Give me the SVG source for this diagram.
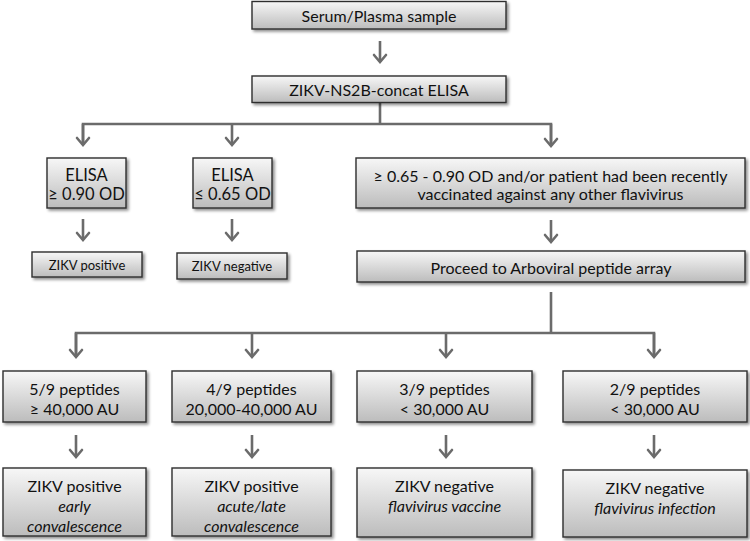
<svg xmlns="http://www.w3.org/2000/svg" width="750" height="541" viewBox="0 0 750 541">
<defs>
<linearGradient id="g" x1="0" y1="0" x2="0" y2="1">
<stop offset="0" stop-color="#f7f7f7"/>
<stop offset="1" stop-color="#bcbcbc"/>
</linearGradient>
<filter id="sh" x="-10%" y="-20%" width="120%" height="150%">
<feGaussianBlur in="SourceAlpha" stdDeviation="1.5"/>
<feOffset dx="1.5" dy="2" result="b"/>
<feComponentTransfer><feFuncA type="linear" slope="0.45"/></feComponentTransfer>
<feMerge><feMergeNode/><feMergeNode in="SourceGraphic"/></feMerge>
</filter>
<marker id="ah" markerUnits="userSpaceOnUse" viewBox="-10 -8 12 16" refX="0" refY="0" markerWidth="12" markerHeight="16" orient="auto" overflow="visible">
<path d="M-7,-6 L0,0 L-7,6" fill="none" stroke="#6b6b6b" stroke-width="2.6" stroke-linecap="round" stroke-linejoin="miter"/>
</marker>
</defs>
<style>
.box{fill:url(#g);stroke:#2e2e2e;stroke-width:1.4;filter:url(#sh)}
.t{font-family:Lato,"Open Sans","Liberation Sans",sans-serif;font-size:16px;fill:#111;text-anchor:middle;dominant-baseline:central}
.s{font-size:13px}
.b{font-size:16px}
.e{font-size:16.5px}
.i{font-style:italic}
.c{fill:none;stroke:#6b6b6b;stroke-width:2.6}
.a{marker-end:url(#ah)}
</style>
<rect width="750" height="541" fill="#ffffff"/>
<g id="connectors">
<line class="c a" x1="380" y1="41" x2="380" y2="62"/>
<line class="c" x1="380" y1="102" x2="380" y2="124"/>
<polyline class="c" points="83,145 83,124 551,124 551,145"/>
<line class="c a" x1="83" y1="124" x2="83" y2="145"/>
<line class="c a" x1="232" y1="124" x2="232" y2="145"/>
<line class="c a" x1="551" y1="124" x2="551" y2="146"/>
<line class="c a" x1="83" y1="219" x2="83" y2="240"/>
<line class="c a" x1="232" y1="219" x2="232" y2="240"/>
<line class="c a" x1="551" y1="220" x2="551" y2="242"/>
<line class="c" x1="551" y1="292" x2="551" y2="333"/>
<polyline class="c" points="76,357 76,333 654,333 654,357"/>
<line class="c a" x1="76" y1="333" x2="76" y2="357"/>
<line class="c a" x1="252" y1="333" x2="252" y2="357"/>
<line class="c a" x1="446" y1="333" x2="446" y2="357"/>
<line class="c a" x1="654" y1="333" x2="654" y2="357"/>
<line class="c a" x1="76" y1="435" x2="76" y2="457"/>
<line class="c a" x1="252" y1="435" x2="252" y2="457"/>
<line class="c a" x1="446" y1="435" x2="446" y2="457"/>
<line class="c a" x1="654" y1="435" x2="654" y2="457"/>
</g>
<g id="serum"><rect class="box" x="252" y="1.5" width="254" height="27.5"/><text class="t" x="379" y="15.5">Serum/Plasma sample</text></g>
<g id="elisa-main"><rect class="box" x="252" y="76" width="254" height="26.5"/><text class="t" x="379" y="89.5">ZIKV-NS2B-concat ELISA</text></g>
<g id="elisa-high"><rect class="box" x="47" y="158" width="79" height="50"/><text class="t e" x="86.5" y="175">ELISA</text><text class="t e" x="86.5" y="193.5">≥ 0.90 OD</text></g>
<g id="elisa-low"><rect class="box" x="193" y="158" width="79" height="50"/><text class="t e" x="232.5" y="175">ELISA</text><text class="t e" x="232.5" y="193.5">≤ 0.65 OD</text></g>
<g id="elisa-mid"><rect class="box" x="356" y="158" width="389" height="50"/><text class="t" x="550.5" y="175">≥ 0.65 - 0.90 OD and/or patient had been recently</text><text class="t" x="550.5" y="193.5">vaccinated against any other flavivirus</text></g>
<g id="zikv-pos"><rect class="box" x="32" y="252" width="110" height="25"/><text class="t s" x="87" y="265">ZIKV positive</text></g>
<g id="zikv-neg"><rect class="box" x="177" y="253" width="110" height="26"/><text class="t s" x="232" y="266">ZIKV negative</text></g>
<g id="proceed"><rect class="box" x="357" y="251" width="388" height="31"/><text class="t" x="551" y="267">Proceed to Arboviral peptide array</text></g>
<g id="p59"><rect class="box" x="3" y="371" width="143" height="51"/><text class="t b" x="74.5" y="388">5/9 peptides</text><text class="t b" x="74.5" y="408">≥ 40,000 AU</text></g>
<g id="p49"><rect class="box" x="172" y="371" width="159" height="51"/><text class="t b" x="251.5" y="388">4/9 peptides</text><text class="t b" x="251.5" y="408">20,000-40,000 AU</text></g>
<g id="p39"><rect class="box" x="357" y="371" width="175" height="51"/><text class="t b" x="444.5" y="388">3/9 peptides</text><text class="t b" x="444.5" y="408">&lt; 30,000 AU</text></g>
<g id="p29"><rect class="box" x="563" y="371" width="184" height="51"/><text class="t b" x="655" y="388">2/9 peptides</text><text class="t b" x="655" y="408">&lt; 30,000 AU</text></g>
<g id="r1"><rect class="box" x="3" y="468" width="143" height="68"/><text class="t b" x="74.5" y="485">ZIKV positive</text><text class="t b i" x="74.5" y="505">early</text><text class="t b i" x="74.5" y="525">convalescence</text></g>
<g id="r2"><rect class="box" x="172" y="468" width="159" height="68"/><text class="t b" x="251.5" y="485">ZIKV positive</text><text class="t b i" x="251.5" y="505">acute/late</text><text class="t b i" x="251.5" y="525">convalescence</text></g>
<g id="r3"><rect class="box" x="357" y="468" width="175" height="69"/><text class="t b" x="444.5" y="485">ZIKV negative</text><text class="t b i" x="444.5" y="505">flavivirus vaccine</text></g>
<g id="r4"><rect class="box" x="563" y="470" width="184" height="67"/><text class="t b" x="655" y="487">ZIKV negative</text><text class="t b i" x="655" y="507">flavivirus infection</text></g>
</svg>
